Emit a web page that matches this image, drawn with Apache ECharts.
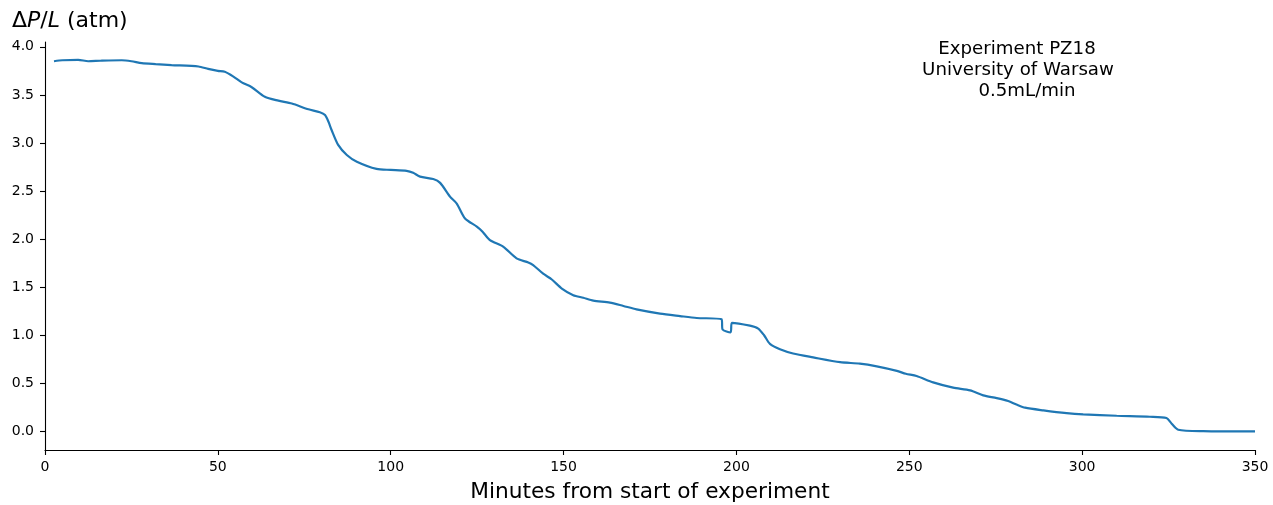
<!DOCTYPE html>
<html>
<head>
<meta charset="utf-8">
<script src="https://cdn.jsdelivr.net/npm/echarts@6/dist/echarts.min.js"></script>
<style>
  html, body { margin: 0; padding: 0; background: #fff; }
  #chart { width: 1273px; height: 505px; }
</style>
</head>
<body>
<div id="chart"></div>
<script>
// Pressure gradient across the sample over time (minutes, atm)
const minutes = [
  2.6, 5, 9.6, 12.5, 16, 22.2, 25, 28, 32, 36.6, 44.4, 47.2, 50, 52, 54.5,
  56.9, 59.8, 63.6, 67.5, 71.4, 76.2, 79.5, 81, 82, 82.9, 84.8, 87.3, 90.2,
  95.9, 100, 104.6, 106.5, 108.5, 112.3, 114.3, 117.2, 119.1, 121.5, 124.9,
  126.5, 128.7, 132.6, 136.4, 139.8, 141.2, 144.1, 146.6, 149.5, 152.8, 155.7,
  158.6, 163.4, 167.3, 171.1, 177.9, 183.7, 188.5, 195.7, 196, 198.3, 198.7,
  203.9, 206.3, 208, 209.7, 212.6, 216.4, 222.2, 230, 235.7, 240.6, 246.4,
  249, 252.1, 256.9, 262.7, 267.6, 271.4, 275.3, 278.6, 281, 283.5, 288.8,
  295.5, 300.3, 310, 319.6, 324.4, 325.9, 327.8, 335, 350
];
const deltaP = [
  3.85, 3.86, 3.865, 3.85, 3.855, 3.86, 3.85, 3.83, 3.82, 3.81, 3.795, 3.77, 3.75, 3.74, 3.69,
  3.63, 3.58, 3.48, 3.44, 3.41, 3.35, 3.32, 3.29, 3.22, 3.135, 2.98, 2.875, 2.805,
  2.73, 2.72, 2.71, 2.69, 2.65, 2.625, 2.585, 2.44, 2.37, 2.215, 2.13,
  2.08, 1.99, 1.92, 1.80, 1.757, 1.73, 1.64, 1.58, 1.486, 1.417, 1.39,
  1.36, 1.34, 1.305, 1.27, 1.226, 1.20, 1.18, 1.167, 1.06, 1.03, 1.13,
  1.10, 1.07, 1.00, 0.91, 0.854, 0.81, 0.77, 0.72, 0.705, 0.677, 0.63,
  0.60, 0.576, 0.51, 0.455, 0.427, 0.375, 0.347, 0.316, 0.28, 0.247, 0.219,
  0.19, 0.177, 0.163, 0.153, 0.139, 0.08, 0.018, 0.003, 0.0
];
const xTicks = [0, 50, 100, 150, 200, 250, 300, 350];
const yTicks = [0, 0.5, 1, 1.5, 2, 2.5, 3, 3.5, 4];
const yRange = [-0.193, 4.05];
const noteLines = ['Experiment PZ18', 'University of Warsaw', '0.5mL/min'];

const FONT = '"DejaVu Sans", sans-serif';
const chart = echarts.init(document.getElementById('chart'), null, { renderer: 'canvas' });

const points = minutes.map((m, i) => [m, deltaP[i]]);

chart.setOption({
  animation: false,
  backgroundColor: '#ffffff',
  grid: { left: 45, right: 18, top: 42, bottom: 55, containLabel: false, outerBoundsMode: 'none' },
  xAxis: {
    type: 'value',
    min: 0,
    max: 350,
    name: 'Minutes from start of experiment',
    nameLocation: 'middle',
    nameGap: 31,
    nameTextStyle: { fontFamily: FONT, fontSize: 21.7, color: '#000' },
    axisLine: { show: true, onZero: false, lineStyle: { color: '#000', width: 1.1 } },
    axisTick: { show: true, length: 5, lineStyle: { color: '#000', width: 1.1 }, customValues: xTicks },
    axisLabel: { fontFamily: FONT, fontSize: 14, color: '#000', margin: 10, customValues: xTicks },
    splitLine: { show: false }
  },
  yAxis: {
    type: 'value',
    min: yRange[0],
    max: yRange[1],
    axisLine: { show: true, onZero: false, lineStyle: { color: '#000', width: 1.1 } },
    axisTick: { show: true, length: 5, lineStyle: { color: '#000', width: 1.1 }, customValues: yTicks },
    axisLabel: {
      fontFamily: FONT, fontSize: 14, color: '#000', margin: 11,
      customValues: yTicks,
      formatter: v => v.toFixed(1)
    },
    splitLine: { show: false }
  },
  series: [{
    type: 'line',
    data: points,
    showSymbol: false,
    smooth: 0.25,
    lineStyle: { color: '#1f77b4', width: 2.2 },
    itemStyle: { color: '#1f77b4' }
  }],
  graphic: [
    {
      type: 'text',
      left: 12,
      top: 10,
      style: {
        text: '{n|Δ}{i|P}{n|/}{i|L}{n| (atm)}',
        rich: {
          n: { fontFamily: FONT, fontSize: 22, fill: '#000' },
          i: { fontFamily: FONT, fontSize: 22, fontStyle: 'italic', fill: '#000' }
        }
      }
    },
    {
      type: 'text', x: 1017, y: 49,
      style: { text: noteLines[0], fontFamily: FONT, fontSize: 18.2, fill: '#000', align: 'center', verticalAlign: 'middle' }
    },
    {
      type: 'text', x: 1018, y: 70,
      style: { text: noteLines[1], fontFamily: FONT, fontSize: 18.2, fill: '#000', align: 'center', verticalAlign: 'middle' }
    },
    {
      type: 'text', x: 1027, y: 91,
      style: { text: noteLines[2], fontFamily: FONT, fontSize: 18.2, fill: '#000', align: 'center', verticalAlign: 'middle' }
    }
  ]
});
</script>
</body>
</html>
